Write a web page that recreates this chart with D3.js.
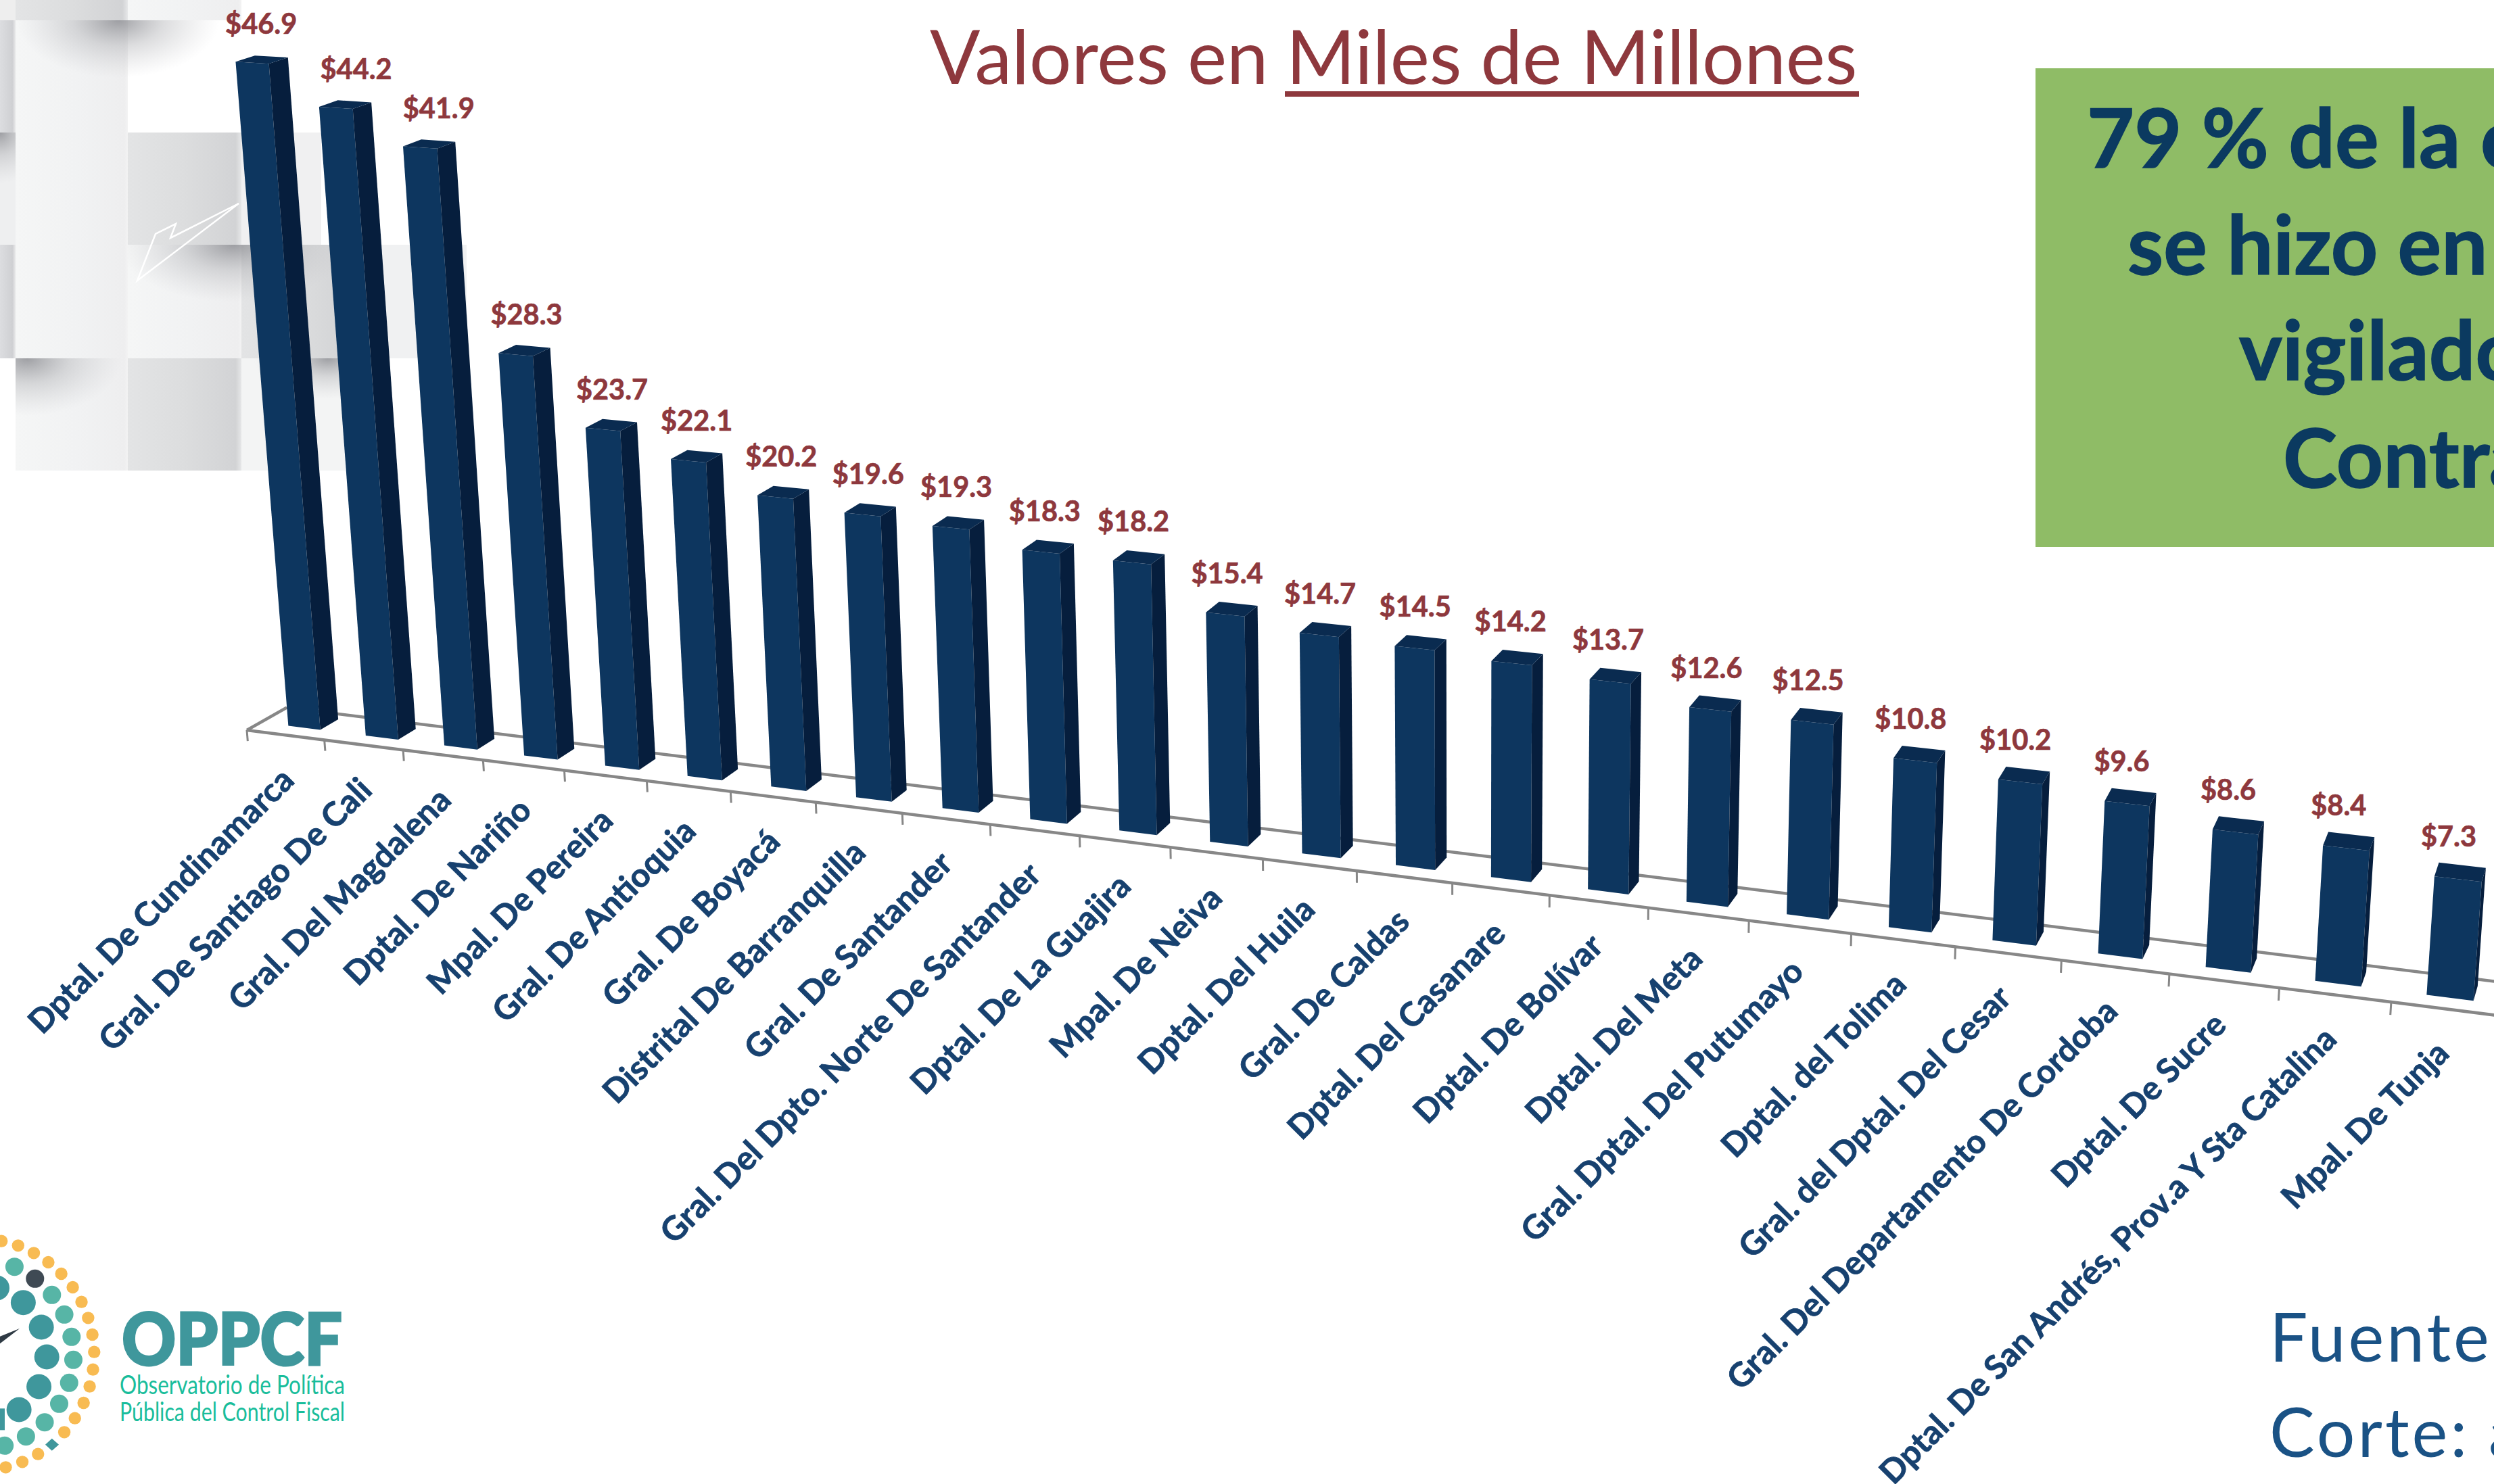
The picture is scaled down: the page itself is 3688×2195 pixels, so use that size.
<!DOCTYPE html>
<html><head><meta charset="utf-8">
<script src="https://cdn.jsdelivr.net/npm/d3@7"></script>
<style>html,body{margin:0;padding:0;background:#fff;overflow:hidden}svg{display:block}text{font-family:Lato,Carlito,"Open Sans",sans-serif}</style>
</head><body><div id="c"></div>
<script>
const categories=["Dptal. De Cundinamarca","Gral. De Santiago De Cali","Gral. Del Magdalena","Dptal. De Nariño","Mpal. De Pereira","Gral. De Antioquia","Gral. De Boyacá","Distrital De Barranquilla","Gral. De Santander","Gral. Del Dpto. Norte De Santander","Dptal. De La Guajira","Mpal. De Neiva","Dptal. Del Huila","Gral. De Caldas","Dptal. Del Casanare","Dptal. De Bolívar","Dptal. Del Meta","Gral. Dptal. Del Putumayo","Dptal. del Tolima","Gral. del Dptal. Del Cesar","Gral. Del Departamento De Cordoba","Dptal. De Sucre","Dptal. De San Andrés, Prov.a Y Sta Catalina","Mpal. De Tunja"];
const values=[46.9,44.2,41.9,28.3,23.7,22.1,20.2,19.6,19.3,18.3,18.2,15.4,14.7,14.5,14.2,13.7,12.6,12.5,10.8,10.2,9.6,8.6,8.4,7.3];
const titleText=["Valores en ","Miles de Millones"];
const boxLines=["79 % de la c","se hizo en","vigilado","Contra"];
const sourceLines=["Fuente","Corte: a"];
const logoLines=["OPPCF","Observatorio de Política","Pública del Control Fiscal"];

const W=3688,H=2195;
const svg=d3.select("#c").append("svg").attr("width",W).attr("height",H).attr("viewBox",[0,0,W,H]);
const defs=svg.append("defs");
function lin(id,stops,x1=0,x2=1,y1=0,y2=0){const g=defs.append("linearGradient").attr("id",id).attr("x1",x1).attr("x2",x2).attr("y1",y1).attr("y2",y2);
 stops.forEach(s=>g.append("stop").attr("offset",s[0]).attr("stop-color",s[1]));}
lin("lite",[[0,"#f5f6f6"],[.55,"#f1f2f3"],[.97,"#eeeeef"],[1,"#f3f3f3"]]);
lin("gray",[[0,"#e3e4e5"],[.5,"#dcddde"],[.95,"#d2d3d5"],[1,"#e6e7e8"]]);
lin("edge",[[0,"#dcdde0"],[.8,"#cfd0d3"],[1,"#e9e9ea"]]);
defs.append("radialGradient").attr("id","sh").selectAll("stop").data([[0,"#8f9095",.85],[.45,"#a9aaae",.4],[1,"#c0c0c4",0]]).join("stop")
 .attr("offset",d=>d[0]).attr("stop-color",d=>d[1]).attr("stop-opacity",d=>d[2]);

// woven background
const g0=svg.append("g");
const cells=[[0,23,0,30,"#eeeeee"],[23,189,0,30,"url(#gray)"],[189,357,0,30,"url(#lite)"],
[0,23,30,196,"url(#edge)"],[0,23,196,362,"#eeeff0"],[0,23,362,530,"url(#edge)"],
[23,189,30,530,"url(#lite)"],[23,189,530,696,"url(#lite)"],
[189,357,196,362,"url(#gray)"],[357,475,196,362,"#f0f0f1"],
[189,357,362,530,"url(#lite)"],[357,525,362,530,"url(#gray)"],[525,690,362,530,"#f0f1f2"],
[189,357,530,696,"url(#gray)"],[357,510,530,696,"#f3f4f4"]];
g0.selectAll("rect.c").data(cells).join("rect").attr("x",d=>d[0]).attr("width",d=>d[1]-d[0]).attr("y",d=>d[2]).attr("height",d=>d[3]-d[2]).attr("fill",d=>d[4]);
const shadows=[[175,30,150,85,20,340,30,120],[0,196,70,75,0,23,196,110],[345,362,170,85,189,700,362,110],[40,530,140,85,23,189,530,100],[485,530,110,60,357,560,530,80]];
shadows.forEach((s,i)=>{const cp=defs.append("clipPath").attr("id","cp"+i);cp.append("rect").attr("x",s[4]).attr("width",s[5]-s[4]).attr("y",s[6]).attr("height",s[7]);
 g0.append("ellipse").attr("cx",s[0]).attr("cy",s[1]).attr("rx",s[2]).attr("ry",s[3]).attr("fill","url(#sh)").attr("clip-path",`url(#cp${i})`);});
g0.append("path").attr("d","M353,301L252,352L260,331L230,346L203,415Z").attr("fill","none").attr("stroke","#fff").attr("stroke-width",2.5);

// perspective camera: k along the axis, v up the value axis, d into the floor
const O=[365,1080],AX=[113.8,-1.65,60],AY=[14.43,-20.09,-34],CW=[-0.00759,-0.000913,0.0148];
function project(k,v,d){const w=1+CW[0]*k+CW[1]*v+CW[2]*d;
 return [O[0]+(AX[0]*k+AX[1]*v+AX[2]*d)/w,O[1]+(AY[0]*k+AY[1]*v+AY[2]*d)/w];}
const n=categories.length;
const xBand=d3.scaleBand().domain(categories).range([.04,n-.04]).paddingInner(.585).paddingOuter(.2925);
const kPos=d3.scalePoint().domain(d3.range(n+1)).range([0,n]);
const yVal=d3.scaleLinear().domain([0,50]).range([0,50]);
const shiftK=.0275,dFront=.344,dBack=.80;
const line=d3.line();

// floor
const axis=svg.append("g").attr("fill","none").attr("stroke","#878787").attr("stroke-width",4.5);
const lineThrough=(a,b)=>line([project(...a),project(...b)]);
axis.append("path").attr("d",lineThrough([0,0,0],[25,0,0]));
axis.append("path").attr("d",lineThrough([0,0,1],[25,0,1]));
axis.append("path").attr("d",lineThrough([0,0,0],[0,0,1]));
axis.selectAll("path.t").data(kPos.domain()).join("path").attr("class","t").attr("stroke-width",3)
 .attr("d",i=>lineThrough([kPos(i),0,0],[kPos(i),-.8,0]));

// bars
const FRONT="#0d365f",SIDE="#061e3d",TOP="#0a2b50";
const bars=svg.append("g").selectAll("g").data(categories.map((c,i)=>({c,v:values[i]}))).join("g");
const quad=(pts)=>line(pts.map(p=>project(...p)))+"Z";
bars.each(function(b){
 const k0=xBand(b.c)+shiftK,k1=k0+xBand.bandwidth(),v=yVal(b.v),s=d3.select(this);
 s.append("path").attr("fill",FRONT).attr("d",quad([[k0,0,dFront],[k1,0,dFront],[k1,v,dFront],[k0,v,dFront]]));
 s.append("path").attr("fill",SIDE).attr("d",quad([[k1,0,dFront],[k1,0,dBack],[k1,v,dBack],[k1,v,dFront]]));
 s.append("path").attr("fill",TOP).attr("d",quad([[k0,v,dFront],[k1,v,dFront],[k1,v,dBack],[k0,v,dBack]]));
});

// value labels
const labelNudge=[2,19,17,6,4,3,0,0,0,-2,-5,-4,-5,-5,-7,-8,-10,-10,-10,-10,-10,-12,-12,-14];
const fmt=d3.format("$.1f");
svg.append("g").attr("text-anchor","middle").attr("font-weight",700).attr("font-size",41.5).attr("fill","#8e383d").attr("stroke","#8e383d").attr("stroke-width",.7)
 .selectAll("text").data(values).join("text").text(fmt)
 .attr("transform",(v,i)=>{const c=categories[i],k=xBand(c)+shiftK+xBand.bandwidth()/2,p=project(k,yVal(v),(dFront+dBack)/2);return `translate(${p[0]-3+labelNudge[i]},${p[1]-38})`;});

// category labels
svg.append("g").attr("text-anchor","end").attr("font-weight",700).attr("font-size",49).attr("fill","#17416f").attr("stroke","#17416f").attr("stroke-width",.8)
 .selectAll("text").data(categories).join("text").text(d=>d)
 .attr("transform",(c,i)=>{const p=project(xBand(c)+xBand.bandwidth()/2,0,0);return `translate(${p[0]+11},${p[1]+69}) rotate(-45)`;});

// title
const t=svg.append("text").attr("y",124).attr("font-size",110).attr("fill","#8e383d");
t.append("tspan").attr("x",1375).text(titleText[0]);t.append("tspan").attr("x",1902).text(titleText[1]);
svg.append("rect").attr("x",1900).attr("y",135).attr("width",849).attr("height",8).attr("fill","#8e383d");

// green box
svg.append("rect").attr("x",3010).attr("y",101).attr("width",W-3010).attr("height",708).attr("fill","#8fbc66");
const bx=[3086,3146,3311,3376],by=[248,406,562,721];
svg.append("g").attr("font-weight",700).attr("font-size",121).attr("fill","#0b3a60").attr("stroke","#0b3a60").attr("stroke-width",1.5).selectAll("text").data(boxLines).join("text")
 .attr("x",(d,i)=>bx[i]).attr("y",(d,i)=>by[i]).text(d=>d);

// source
const sy=[2014,2155];
svg.append("g").attr("font-size",100).attr("letter-spacing",4).attr("word-spacing",-2).attr("fill","#1a5285").selectAll("text").data(sourceLines).join("text")
 .attr("x",3356).attr("y",(d,i)=>sy[i]).text(d=>d);

// logo
const orange=[[5,407],[60,427],[112,460],[160,501],[203,552],[241,612],[270,677],[292,748],[306,822],[312,899],[308,977],[297,1052],[277,1125],[248,1193],[213,1255],[126,1352],[74,1387],[19,1411]];
const teal=[[48,521],[172,646],[213,733],[237,832],[243,934],[229,1036],[196,1129],[148,1211],[86,1274],[15,1315]];
const deep=[[-10,615],[77,680],[137,789],[155,921],[129,1053],[63,1155]];
const lx=x=>x/2.24,ly=y=>1700+y/3;
const logo=svg.append("g");
const dots=(arr,r,fill)=>logo.append("g").attr("fill",fill).selectAll("circle").data(arr).join("circle").attr("cx",d=>lx(d[0])).attr("cy",d=>ly(d[1])).attr("r",r);
dots(orange,9.2,"#f8bb52");dots(teal,13.5,"#57b5a6");dots(deep,18.5,"#3f979c");dots([[116,574]],13.5,"#3f4a54");
logo.append("path").attr("fill","#3f979c").attr("d",line([[172,1283],[195,1310],[172,1337],[150,1310]].map(p=>[lx(p[0]),ly(p[1])]))+"Z");
logo.append("path").attr("fill","#2f3a44").attr("d",line([[65,795],[0,862],[0,830]].map(p=>[lx(p[0]),ly(p[1])]))+"Z");
logo.append("rect").attr("x",0).attr("y",ly(1150)).attr("width",7).attr("height",32).attr("fill","#3f979c");
logo.append("text").attr("x",180).attr("y",2019).attr("font-size",106).attr("font-weight",900).attr("fill","#3f979c").attr("stroke","#3f979c").attr("stroke-width",3).attr("textLength",326).attr("lengthAdjust","spacingAndGlyphs").text(logoLines[0]);
logo.append("text").attr("x",177).attr("y",2062).attr("font-size",38).attr("font-weight",400).attr("fill","#19bd9b").attr("textLength",333).attr("lengthAdjust","spacingAndGlyphs").text(logoLines[1]);
logo.append("text").attr("x",177).attr("y",2102).attr("font-size",38).attr("font-weight",400).attr("fill","#19bd9b").attr("textLength",333).attr("lengthAdjust","spacingAndGlyphs").text(logoLines[2]);
</script></body></html>
